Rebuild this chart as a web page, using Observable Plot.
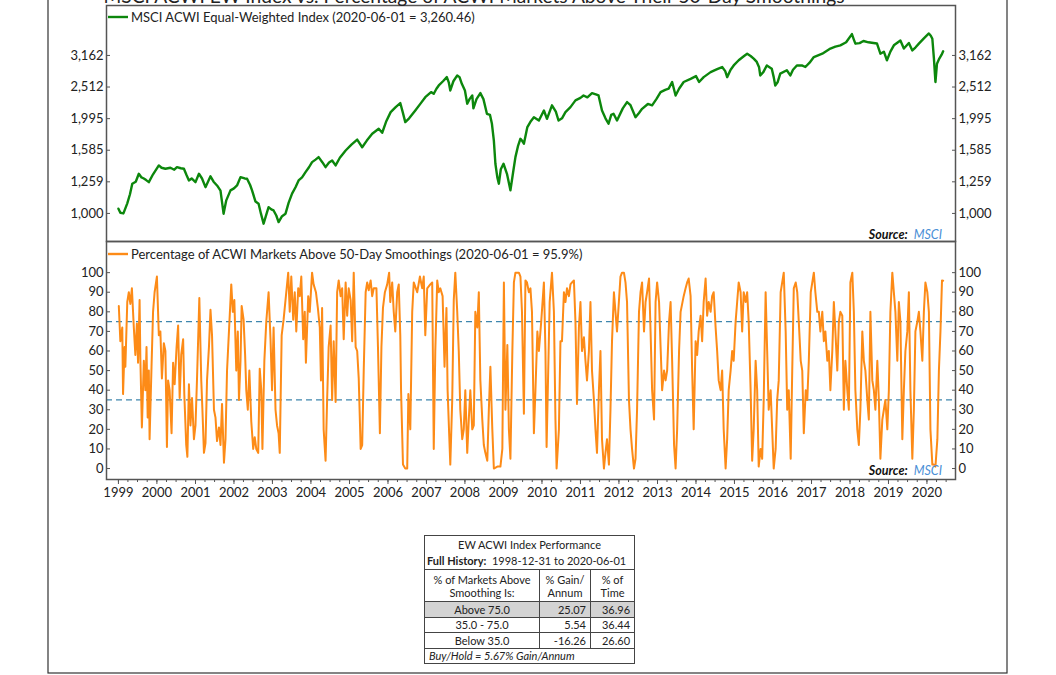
<!DOCTYPE html>
<html><head><meta charset="utf-8">
<script src="https://cdn.jsdelivr.net/npm/d3@7"></script>
<script src="https://cdn.jsdelivr.net/npm/@observablehq/plot@0.6"></script>
<style>
body{margin:0;background:#fff;font-family:Lato,sans-serif;}
#wrap{position:relative;width:1056px;height:675px;overflow:hidden;background:#fff;}
#top,#bot,#overlay{position:absolute;left:0;}
#top{top:0}
#bot{top:241px}
#overlay{top:0;pointer-events:none}
#tbl{position:absolute;left:424px;top:535px;width:210px;border-collapse:collapse;table-layout:fixed;font-family:Lato,sans-serif;font-size:11px;color:#222;}
#tbl td{border:1px solid #444;padding:0 4px;line-height:13px;white-space:nowrap;overflow:hidden;}
#tbl td.n{text-align:right}
#tbl td.c{text-align:center}
#tbl tr.g td{background:#d3d3d3}
#tbl td.nb{border-bottom:none}
#tbl td.nt{border-top:none}
</style></head><body><div id="wrap"><div id="top"></div><div id="bot"></div>
<table id="tbl">
<colgroup><col style="width:115px"><col style="width:51px"><col style="width:44px"></colgroup>
<tr style="height:17px"><td colspan="3" class="c nb">EW ACWI Index Performance</td></tr>
<tr style="height:17px"><td colspan="3" class="nt" style="padding-left:2px"><b>Full History:</b>&nbsp; 1998-12-31 to 2020-06-01</td></tr>
<tr style="height:32px"><td class="c">% of Markets Above<br>Smoothing Is:</td><td class="c">% Gain/<br>Annum</td><td class="c">% of<br>Time</td></tr>
<tr class="g" style="height:15.5px"><td class="c">Above 75.0</td><td class="n">25.07</td><td class="n">36.96</td></tr>
<tr style="height:15.5px"><td class="c">35.0 - 75.0</td><td class="n">5.54</td><td class="n">36.44</td></tr>
<tr style="height:15.5px"><td class="c">Below 35.0</td><td class="n">-16.26</td><td class="n">26.60</td></tr>
<tr style="height:15px"><td colspan="3" style="font-style:italic">Buy/Hold = 5.67% Gain/Annum</td></tr>
</table>
</div>
<script>
// ---------- DATA ----------
const idxYears = [1999.00,1999.05,1999.13,1999.23,1999.30,1999.36,1999.45,1999.53,1999.60,1999.66,1999.72,1999.79,1999.90,2000.05,2000.12,2000.22,2000.35,2000.45,2000.52,2000.62,2000.70,2000.77,2000.83,2000.90,2001.00,2001.09,2001.17,2001.26,2001.39,2001.47,2001.56,2001.65,2001.73,2001.80,2001.91,2002.00,2002.08,2002.17,2002.28,2002.34,2002.42,2002.47,2002.56,2002.64,2002.70,2002.77,2002.85,2002.90,2002.97,2003.03,2003.10,2003.16,2003.25,2003.34,2003.42,2003.51,2003.60,2003.68,2003.77,2003.86,2003.95,2004.03,2004.12,2004.20,2004.30,2004.38,2004.47,2004.55,2004.64,2004.75,2004.90,2005.05,2005.20,2005.33,2005.45,2005.59,2005.70,2005.76,2005.85,2005.95,2006.07,2006.20,2006.32,2006.38,2006.45,2006.55,2006.71,2006.85,2006.97,2007.12,2007.19,2007.26,2007.32,2007.43,2007.53,2007.58,2007.62,2007.70,2007.80,2007.86,2007.92,2008.00,2008.06,2008.12,2008.19,2008.22,2008.30,2008.40,2008.48,2008.57,2008.65,2008.70,2008.75,2008.79,2008.84,2008.88,2008.93,2009.00,2009.09,2009.18,2009.25,2009.31,2009.38,2009.44,2009.48,2009.53,2009.62,2009.70,2009.79,2009.92,2010.05,2010.13,2010.26,2010.36,2010.43,2010.52,2010.61,2010.74,2010.87,2011.00,2011.08,2011.18,2011.30,2011.40,2011.47,2011.56,2011.65,2011.73,2011.80,2011.86,2011.95,2012.10,2012.21,2012.30,2012.43,2012.52,2012.60,2012.75,2012.86,2012.97,2013.08,2013.20,2013.29,2013.38,2013.47,2013.56,2013.68,2013.86,2014.00,2014.08,2014.20,2014.38,2014.55,2014.68,2014.76,2014.81,2014.90,2014.98,2015.11,2015.25,2015.33,2015.42,2015.50,2015.58,2015.64,2015.67,2015.75,2015.84,2015.97,2016.02,2016.06,2016.12,2016.19,2016.36,2016.45,2016.52,2016.62,2016.75,2016.84,2016.95,2017.06,2017.28,2017.49,2017.62,2017.75,2017.90,2018.05,2018.10,2018.14,2018.25,2018.35,2018.48,2018.61,2018.70,2018.79,2018.88,2018.96,2019.05,2019.14,2019.31,2019.40,2019.53,2019.62,2019.70,2019.79,2019.92,2020.05,2020.10,2020.14,2020.18,2020.22,2020.26,2020.32,2020.38,2020.42];
const idxValues = [1035,1005,1000,1076,1150,1242,1260,1335,1300,1290,1275,1256,1330,1419,1395,1385,1395,1375,1401,1390,1385,1320,1272,1290,1256,1335,1290,1211,1310,1260,1226,1180,998,1100,1183,1200,1226,1303,1290,1287,1230,1183,1090,1073,1000,928,1000,1047,1030,1022,985,939,980,998,1080,1155,1210,1272,1300,1351,1400,1453,1480,1507,1450,1401,1450,1471,1419,1500,1582,1650,1712,1620,1700,1787,1830,1854,1800,1950,2092,2170,2235,2100,1945,2000,2117,2230,2333,2420,2391,2480,2541,2620,2700,2600,2450,2620,2733,2700,2572,2450,2225,2300,2362,2150,2300,2403,2300,2067,2050,1922,1700,1436,1300,1242,1380,1436,1335,1183,1350,1507,1640,1723,1700,1662,1876,1950,2016,1968,2117,1992,2198,2100,1968,2000,2092,2170,2279,2320,2362,2330,2403,2380,2362,2117,2000,1922,2050,2067,1968,2150,2251,2200,2016,2080,2143,2220,2198,2300,2420,2460,2482,2605,2362,2480,2605,2667,2720,2605,2700,2800,2860,2906,2820,2700,2850,2940,3053,3150,3203,3150,3090,3016,2900,2733,2800,2940,2870,2700,2541,2600,2770,2838,2733,2850,2940,2940,2906,3000,3125,3203,3325,3370,3404,3480,3694,3550,3445,3460,3512,3480,3462,3450,3203,3250,3053,3250,3404,3525,3325,3462,3280,3350,3445,3580,3711,3650,3570,3100,2605,2976,3090,3180,3260.46];

const pctYears = [1999.01,1999.05,1999.10,1999.12,1999.16,1999.18,1999.23,1999.27,1999.31,1999.35,1999.40,1999.44,1999.48,1999.51,1999.55,1999.57,1999.61,1999.66,1999.70,1999.73,1999.76,1999.79,1999.81,1999.86,1999.90,1999.94,2000.00,2000.05,2000.09,2000.13,2000.18,2000.22,2000.26,2000.29,2000.33,2000.38,2000.42,2000.46,2000.51,2000.55,2000.59,2000.63,2000.68,2000.71,2000.76,2000.79,2000.83,2000.87,2000.91,2000.96,2001.00,2001.04,2001.10,2001.15,2001.18,2001.22,2001.26,2001.30,2001.35,2001.39,2001.43,2001.48,2001.52,2001.56,2001.61,2001.65,2001.69,2001.74,2001.78,2001.82,2001.87,2001.93,2001.97,2002.01,2002.06,2002.10,2002.13,2002.17,2002.20,2002.25,2002.29,2002.32,2002.36,2002.40,2002.45,2002.50,2002.54,2002.58,2002.63,2002.67,2002.71,2002.74,2002.79,2002.84,2002.90,2002.95,2002.99,2003.03,2003.08,2003.12,2003.16,2003.19,2003.24,2003.29,2003.35,2003.41,2003.45,2003.49,2003.54,2003.58,2003.62,2003.67,2003.71,2003.75,2003.80,2003.84,2003.87,2003.93,2003.97,2004.03,2004.07,2004.13,2004.18,2004.23,2004.26,2004.29,2004.33,2004.38,2004.42,2004.46,2004.51,2004.55,2004.59,2004.64,2004.68,2004.72,2004.77,2004.81,2004.85,2004.90,2004.94,2004.98,2005.03,2005.07,2005.11,2005.16,2005.20,2005.24,2005.29,2005.33,2005.37,2005.42,2005.46,2005.50,2005.55,2005.59,2005.63,2005.70,2005.74,2005.79,2005.83,2005.87,2005.92,2005.98,2006.03,2006.06,2006.11,2006.15,2006.19,2006.24,2006.28,2006.32,2006.34,2006.39,2006.45,2006.50,2006.53,2006.58,2006.63,2006.67,2006.76,2006.83,2006.89,2006.93,2006.97,2007.02,2007.10,2007.15,2007.19,2007.23,2007.28,2007.32,2007.36,2007.42,2007.47,2007.52,2007.55,2007.59,2007.62,2007.67,2007.71,2007.75,2007.80,2007.84,2007.88,2007.93,2007.97,2008.01,2008.06,2008.10,2008.14,2008.19,2008.23,2008.27,2008.32,2008.36,2008.40,2008.45,2008.49,2008.53,2008.58,2008.62,2008.66,2008.71,2008.75,2008.84,2008.92,2008.97,2009.01,2009.05,2009.10,2009.14,2009.18,2009.23,2009.27,2009.31,2009.40,2009.44,2009.48,2009.53,2009.57,2009.61,2009.66,2009.70,2009.74,2009.79,2009.83,2009.88,2009.92,2009.98,2010.05,2010.09,2010.12,2010.20,2010.26,2010.31,2010.35,2010.38,2010.44,2010.48,2010.52,2010.57,2010.61,2010.65,2010.70,2010.74,2010.78,2010.83,2010.87,2010.91,2010.96,2011.00,2011.04,2011.09,2011.13,2011.17,2011.22,2011.26,2011.30,2011.35,2011.39,2011.43,2011.48,2011.52,2011.56,2011.61,2011.65,2011.69,2011.74,2011.78,2011.82,2011.87,2011.91,2011.95,2012.04,2012.08,2012.13,2012.17,2012.21,2012.26,2012.30,2012.34,2012.39,2012.43,2012.47,2012.52,2012.56,2012.60,2012.65,2012.69,2012.73,2012.78,2012.82,2012.86,2012.91,2012.95,2012.99,2013.04,2013.08,2013.12,2013.17,2013.21,2013.25,2013.30,2013.34,2013.38,2013.43,2013.47,2013.51,2013.56,2013.60,2013.68,2013.73,2013.77,2013.81,2013.86,2013.90,2013.94,2013.99,2014.03,2014.07,2014.12,2014.16,2014.20,2014.25,2014.29,2014.33,2014.38,2014.42,2014.46,2014.51,2014.55,2014.59,2014.64,2014.68,2014.72,2014.77,2014.81,2014.85,2014.90,2014.94,2014.98,2015.03,2015.07,2015.11,2015.16,2015.20,2015.24,2015.29,2015.33,2015.37,2015.42,2015.46,2015.50,2015.55,2015.59,2015.63,2015.68,2015.72,2015.76,2015.81,2015.85,2015.89,2015.94,2015.98,2016.02,2016.07,2016.11,2016.15,2016.20,2016.24,2016.28,2016.33,2016.37,2016.41,2016.46,2016.50,2016.54,2016.59,2016.63,2016.67,2016.72,2016.76,2016.80,2016.85,2016.89,2016.93,2016.98,2017.02,2017.06,2017.10,2017.15,2017.19,2017.23,2017.28,2017.32,2017.36,2017.41,2017.45,2017.49,2017.54,2017.58,2017.62,2017.67,2017.71,2017.75,2017.80,2017.84,2017.88,2017.93,2017.97,2018.01,2018.06,2018.10,2018.14,2018.19,2018.23,2018.27,2018.32,2018.36,2018.40,2018.45,2018.49,2018.53,2018.58,2018.62,2018.66,2018.71,2018.75,2018.79,2018.84,2018.88,2018.92,2018.97,2019.01,2019.05,2019.10,2019.14,2019.18,2019.23,2019.27,2019.31,2019.36,2019.40,2019.44,2019.49,2019.53,2019.57,2019.62,2019.66,2019.70,2019.75,2019.79,2019.83,2019.88,2019.92,2019.96,2020.01,2020.05,2020.09,2020.14,2020.18,2020.22,2020.27,2020.31,2020.35,2020.39,2020.42];
const pctValues = [83,65,72,38,62,52,85,90,84,92,72,58,74,54,86,56,21,55,40,62,26,50,15,52,80,90,98,68,70,46,64,60,11,45,40,18,54,43,62,73,36,58,66,38,12,6,43,22,36,15,22,46,87,45,30,8,13,45,62,81,68,30,26,14,21,12,33,3,15,50,70,94,80,86,50,70,35,55,83,76,58,40,30,50,24,10,16,10,8,51,40,10,55,75,90,66,40,72,30,22,18,8,68,76,88,100,80,98,76,90,70,92,88,98,66,80,54,88,80,100,94,90,82,72,45,82,20,4,35,62,73,35,65,34,90,96,88,92,66,95,78,92,86,65,100,62,60,46,10,12,50,90,95,91,96,88,92,92,62,18,62,82,90,94,100,85,95,80,70,90,94,68,40,2,0,0,38,20,80,95,90,98,92,98,68,92,94,95,10,60,96,90,92,88,52,82,40,18,2,35,86,100,80,60,30,15,20,40,8,25,40,20,22,80,72,90,45,25,12,8,4,30,52,20,0,1,1,10,95,30,63,20,5,60,95,100,100,98,80,28,96,95,90,92,80,18,40,70,60,75,95,60,11,85,100,80,25,0,20,65,65,90,85,92,88,94,95,96,75,33,72,85,60,67,55,45,60,85,50,35,20,8,40,60,15,0,8,15,2,30,65,90,80,70,98,100,100,95,85,35,20,10,0,5,30,80,90,95,70,85,90,97,70,40,25,85,95,85,62,40,50,45,50,75,85,55,12,0,20,60,80,88,92,95,97,88,50,20,65,58,70,78,65,85,97,78,85,80,88,90,72,60,45,40,50,20,0,15,40,50,60,55,75,85,95,90,70,90,85,90,75,40,4,20,55,40,1,10,5,35,90,60,30,40,20,0,10,35,45,90,95,100,70,30,40,5,50,92,95,90,75,55,50,18,40,35,55,90,95,100,90,80,80,70,80,65,70,55,60,40,60,85,70,50,75,80,78,30,55,40,30,95,100,80,40,20,12,30,70,55,50,35,25,80,45,40,30,55,35,5,25,30,35,20,40,80,100,90,80,55,85,75,15,40,60,70,90,40,5,30,70,75,80,70,55,80,95,90,80,20,2,2,1,15,50,70,96,95.9];

const idxTicks = [1000,1259,1585,1995,2512,3162];
const pctTicks = [0,10,20,30,40,50,60,70,80,90,100];
const thresholds = [75,35];
const xStartYear = 1998.69, xEndYear = 2020.74;

// ---------- helpers ----------
function toDate(t){const y=Math.floor(t);const s=Date.UTC(y,0,1),e=Date.UTC(y+1,0,1);return new Date(s+(t-y)*(e-s));}
const idxData = idxYears.map((t,i)=>({date:toDate(t), value:idxValues[i]}));
const pctData = pctYears.map((t,i)=>({date:toDate(t), value:pctValues[i]}));
const xDomain = [toDate(xStartYear), toDate(xEndYear)];
const yearTicks = d3.utcYear.range(toDate(1999), toDate(2021));
const quarterTicks = d3.utcMonth.every(3).range(toDate(1998.75), toDate(2020.74));

const axisStyle = {fontFamily:"Lato, sans-serif", fontSize:"13px", color:"#222", background:"transparent", overflow:"visible"};

const topPlot = Plot.plot({
  width:1056, height:241, marginLeft:106, marginRight:101, marginTop:5, marginBottom:0,
  style:axisStyle,
  x:{type:"utc", domain:xDomain, axis:null},
  y:{type:"log", domain:[815,4550], label:null},
  marks:[
    Plot.axisY(idxTicks,{anchor:"left", tickSize:-4, tickPadding:7, tickFormat:d3.format(","), stroke:"#555", fill:"#222"}),
    Plot.axisY(idxTicks,{anchor:"right", tickSize:-4, tickPadding:7, tickFormat:d3.format(","), stroke:"#555", fill:"#222"}),
    Plot.line(idxData,{x:"date", y:"value", stroke:"#0c870c", strokeWidth:2.4}),
    Plot.frame({stroke:"#555", strokeWidth:1.5})
  ]
});
document.getElementById("top").appendChild(topPlot);

const botPlot = Plot.plot({
  width:1056, height:267, marginLeft:106, marginRight:101, marginTop:0, marginBottom:29,
  style:axisStyle,
  x:{type:"utc", domain:xDomain, label:null},
  y:{domain:[-5.6,115.9], label:null},
  marks:[
    Plot.axisX(quarterTicks,{tickSize:3, text:null, stroke:"#555"}),
    Plot.axisX(yearTicks,{tickSize:5, tickPadding:3, tickFormat:d3.utcFormat("%Y"), stroke:"#555", fill:"#222"}),
    Plot.axisY(pctTicks,{anchor:"left", tickSize:-4, tickPadding:7, stroke:"#555", fill:"#222"}),
    Plot.axisY(pctTicks,{anchor:"right", tickSize:-4, tickPadding:7, stroke:"#555", fill:"#222"}),
    Plot.ruleY(thresholds,{stroke:"#3f86ad", strokeWidth:1.2, strokeDasharray:"6,4"}),
    Plot.line(pctData,{x:"date", y:"value", stroke:"#fd8b17", strokeWidth:2}),
    Plot.frame({stroke:"#555", strokeWidth:1.5})
  ]
});
document.getElementById("bot").appendChild(botPlot);

// ---------- overlay: title, legends, sources, outer frame ----------
const svg = d3.select("#wrap").append("svg").attr("id","overlay").attr("width",1056).attr("height",675)
  .style("font-family","Lato, sans-serif");
svg.append("rect").attr("x",48).attr("y",-5).attr("width",959).attr("height",678)
  .attr("fill","none").attr("stroke","#333").attr("stroke-width",1.2);
svg.append("text").attr("x",474).attr("y",3).attr("text-anchor","middle").attr("font-size",19.2).attr("fill","#222")
  .text("MSCI ACWI EW Index vs. Percentage of ACWI Markets Above Their 50-Day Smoothings");

function legend(y, color, label){
  svg.append("line").attr("x1",108).attr("x2",128).attr("y1",y).attr("y2",y).attr("stroke",color).attr("stroke-width",2.4);
  svg.append("text").attr("x",131).attr("y",y+5).attr("font-size",13).attr("fill","#222").text(label);
}
legend(17, "#0c870c", "MSCI ACWI Equal-Weighted Index (2020-06-01 = 3,260.46)");
legend(254, "#fd8b17", "Percentage of ACWI Markets Above 50-Day Smoothings (2020-06-01 = 95.9%)");

function source(y){
  const t = svg.append("text").attr("x",942).attr("y",y).attr("text-anchor","end").attr("font-size",12.5).attr("font-style","italic");
  t.append("tspan").attr("font-weight","bold").attr("fill","#111").text("Source:");
  t.append("tspan").attr("fill","#4a8fd6").attr("dx",6).text("MSCI");
}
source(239);
source(475);
</script>
</body></html>
